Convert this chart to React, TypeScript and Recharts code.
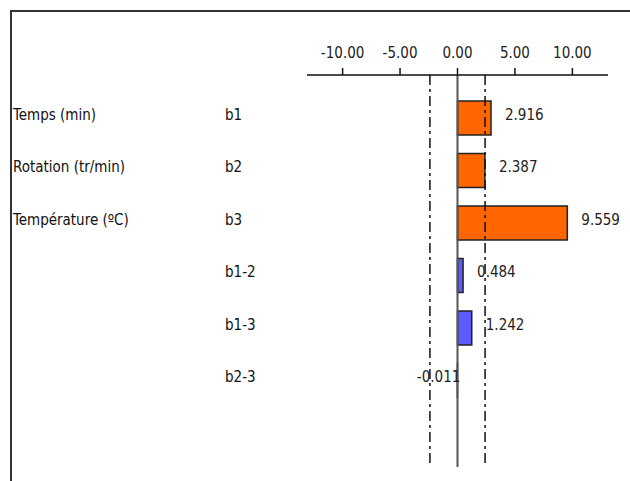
import React from 'react';
import {
  BarChart,
  Bar,
  XAxis,
  YAxis,
  ReferenceLine,
  Cell,
  LabelList
} from 'recharts';

const factors = ['Temps (min)', 'Rotation (tr/min)', 'Température (ºC)', '', '', ''];
const codes = ['b1', 'b2', 'b3', 'b1-2', 'b1-3', 'b2-3'];
const effects = [2.916, 2.387, 9.559, 0.484, 1.242, -0.011];
const xTicks = [-10, -5, 0, 5, 10];
const threshold = 2.4;

const data = codes.map((code, i) => ({ code, factor: factors[i], value: effects[i] }));

const FONT = '"DejaVu Sans Condensed", "DejaVu Sans", sans-serif';

const LeftTick = (props: any) => {
  const { y, payload, index } = props;
  return (
    <g>
      <text x={13} y={y} dy={-3} fontFamily={FONT} fontSize={15} fill="#111" dominantBaseline="middle">
        {factors[index]}
      </text>
      <text x={225} y={y} dy={-3} fontFamily={FONT} fontSize={15} fill="#111" dominantBaseline="middle">
        {payload.value}
      </text>
    </g>
  );
};

const ValueLabel = (props: any) => {
  const { x, y, width, height, value } = props;
  const end = x + width;
  const cy = y + height / 2 - 3;
  if (value < 0) {
    return (
      <text x={Math.min(x, end) + 3} y={cy} fontFamily={FONT} fontSize={15} fill="#222" textAnchor="end" dominantBaseline="middle">
        {value.toFixed(3)}
      </text>
    );
  }
  return (
    <text x={end + 14} y={cy} fontFamily={FONT} fontSize={15} fill="#222" dominantBaseline="middle">
      {value.toFixed(3)}
    </text>
  );
};

const App = () => {
  return (
    <div style={{ position: 'absolute', left: 0, top: 0, width: 630, height: 481, background: '#fff' }}>
      <div
        style={{
          position: 'absolute',
          left: 10,
          top: 10,
          width: 630,
          height: 481,
          borderTop: '2px solid #333',
          borderLeft: '2px solid #333'
        }}
      />
      <BarChart
        width={630}
        height={481}
        data={data}
        layout="vertical"
        margin={{ top: 0, right: 22, bottom: 14, left: 0 }}
        barSize={34}
        style={{ position: 'absolute', left: 0, top: 0 }}
      >
        <XAxis
          type="number"
          orientation="top"
          domain={[-13.1, 13.1]}
          ticks={xTicks}
          tickFormatter={(v: number) => v.toFixed(2)}
          height={75}
          tickSize={7}
          tickMargin={10}
          axisLine={{ stroke: '#111', strokeWidth: 1.5 }}
          tickLine={{ stroke: '#111', strokeWidth: 1.5 }}
          tick={{ fontFamily: FONT, fontSize: 15, fill: '#222' }}
        />
        <YAxis
          type="category"
          dataKey="code"
          width={307}
          axisLine={false}
          tickLine={false}
          tick={<LeftTick />}
          padding={{ top: 17, bottom: 60 }}
        />
        <ReferenceLine x={0} stroke="#555" strokeWidth={2} />
        <ReferenceLine x={-threshold} stroke="#111" strokeWidth={1.5} strokeDasharray="10 4 3 4" />
        <ReferenceLine x={threshold} stroke="#111" strokeWidth={1.5} strokeDasharray="10 4 3 4" />
        <Bar dataKey="value" stroke="#222" strokeWidth={1.5} isAnimationActive={false}>
          {data.map((d) => (
            <Cell key={d.code} fill={d.code.includes('-') ? '#5B5BFF' : '#FF6600'} />
          ))}
          <LabelList dataKey="value" content={<ValueLabel />} />
        </Bar>
      </BarChart>
    </div>
  );
};

export default App;
